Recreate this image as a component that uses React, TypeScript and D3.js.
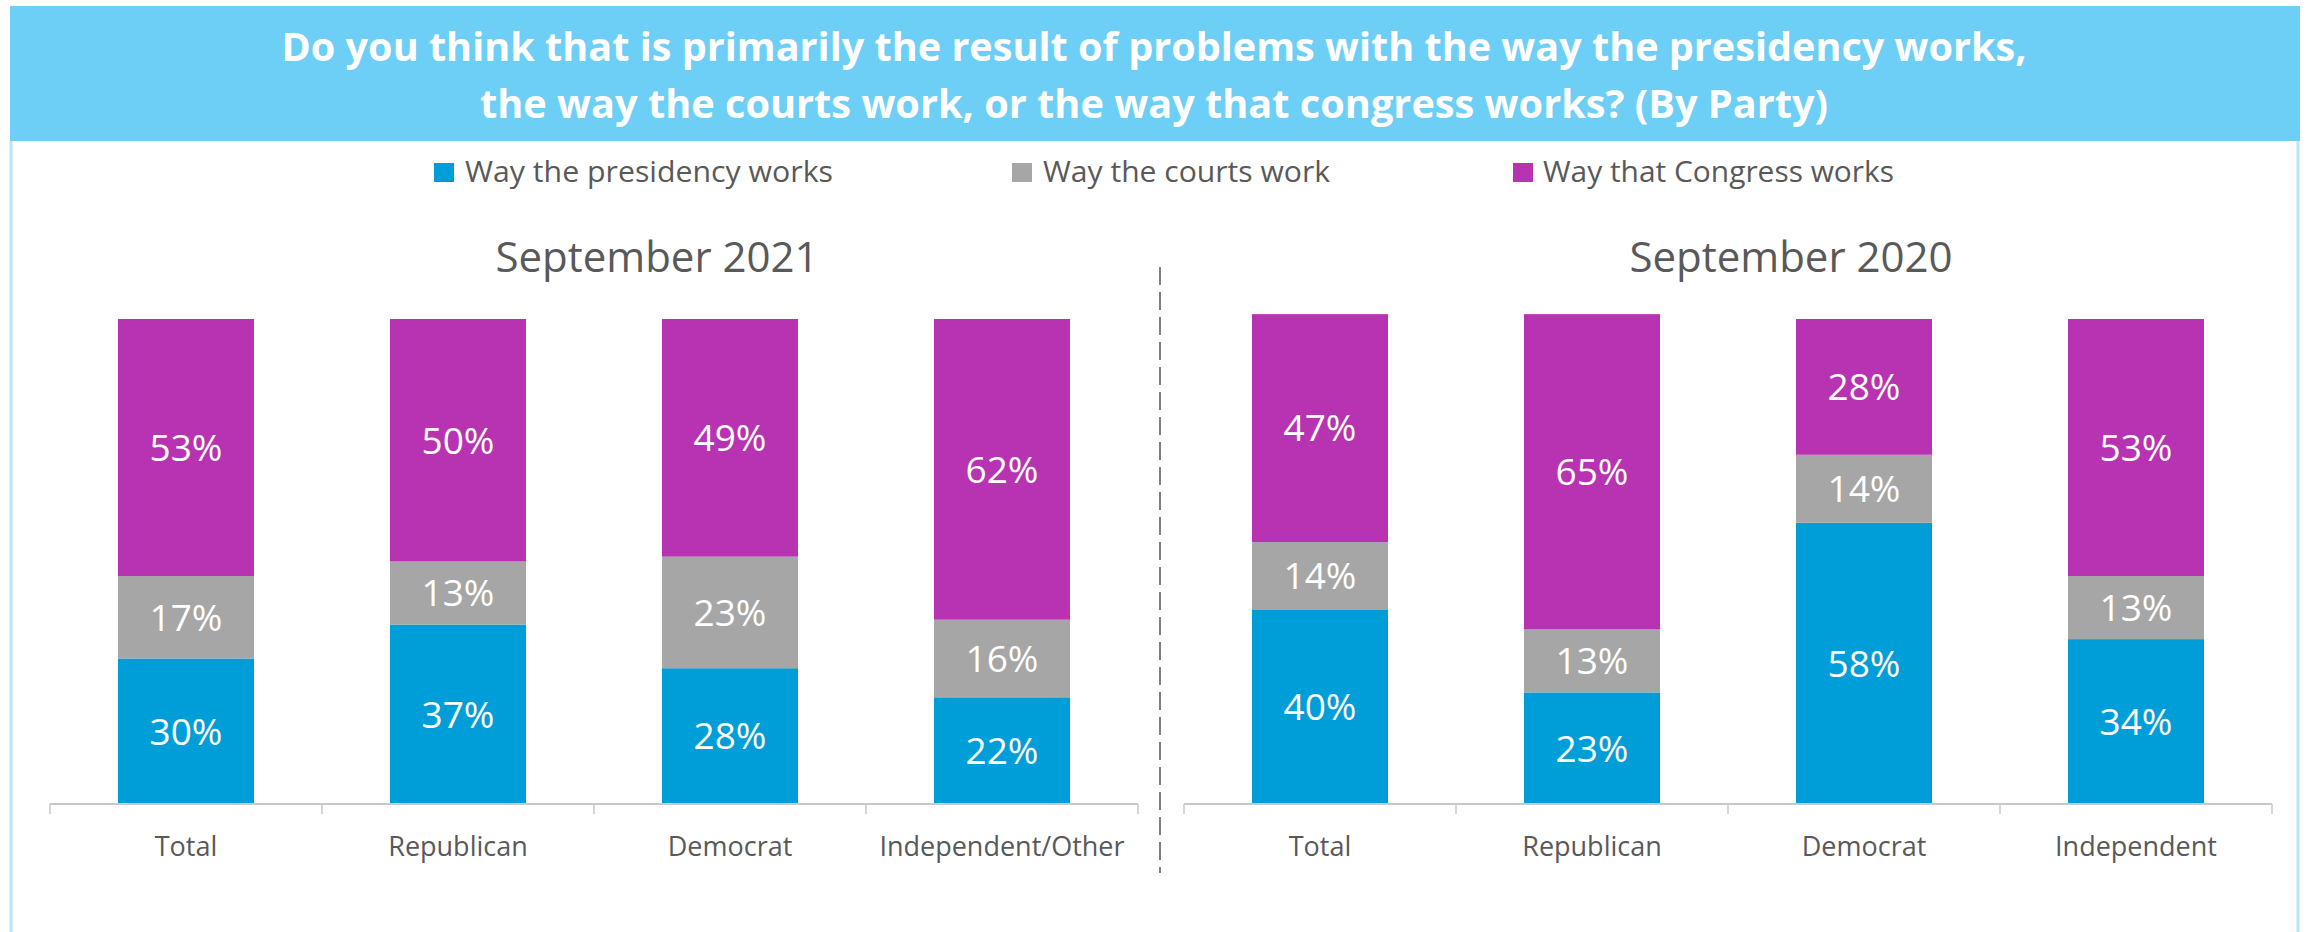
import React from "react";
import * as d3 from "d3";

// ---- data ----
const seriesNames = ["Way the presidency works", "Way the courts work", "Way that Congress works"];
const seriesColors = ["#009ED8", "#A6A6A6", "#B733B1"];

const panelTitles = ["September 2021", "September 2020"];

const categories2021 = ["Total", "Republican", "Democrat", "Independent/Other"];
const presidency2021 = [30, 37, 28, 22];
const courts2021 = [17, 13, 23, 16];
const congress2021 = [53, 50, 49, 62];

const categories2020 = ["Total", "Republican", "Democrat", "Independent"];
const presidency2020 = [40, 23, 58, 34];
const courts2020 = [14, 13, 14, 13];
const congress2020 = [47, 65, 28, 53];

const titleLines = [
  "Do you think that is primarily the result of problems with the way the presidency works,",
  "the way the courts work, or the way that congress works? (By Party)",
];

// ---- layout ----
const W = 2306;
const H = 932;
const FONT = "'Open Sans', 'Noto Sans', sans-serif";
const TEXT_GRAY = "#595959";

const axisY = 804;
const topY = 319;
const y = d3.scaleLinear().domain([0, 100]).range([axisY, topY]);

type Panel = {
  title: string;
  titleX: number;
  cats: string[];
  series: number[][];
  range: [number, number];
};

const panels: Panel[] = [
  {
    title: panelTitles[0],
    titleX: 657,
    cats: categories2021,
    series: [presidency2021, courts2021, congress2021],
    range: [50, 1138],
  },
  {
    title: panelTitles[1],
    titleX: 1791,
    cats: categories2020,
    series: [presidency2020, courts2020, congress2020],
    range: [1184, 2272],
  },
];

const legendLayout = [
  { mx: 434, tx: 465, tl: 368 },
  { mx: 1012, tx: 1043, tl: 287 },
  { mx: 1513, tx: 1543, tl: 351 },
];

function PanelView({ p }: { p: Panel }) {
  const x = d3.scaleBand<string>().domain(p.cats).range(p.range).paddingInner(0.5).paddingOuter(0.25);
  const step = x.step();
  const stacked = d3
    .stack<number>()
    .keys(["0", "1", "2"])
    .value((i, k) => p.series[+k][i])(d3.range(p.cats.length));

  return (
    <g>
      <text x={p.titleX} y={272} textAnchor="middle" fontFamily={FONT} fontSize={42} fill={TEXT_GRAY}>
        {p.title}
      </text>
      {stacked.map((layer, si) => (
        <g key={si}>
          {layer.map((d, ci) => {
            const bx = x(p.cats[ci])!;
            const y0 = y(d[0]);
            const y1 = y(d[1]);
            return (
              <g key={ci}>
                <rect x={bx} y={y1} width={x.bandwidth()} height={y0 - y1} fill={seriesColors[si]} />
                <text
                  x={bx + x.bandwidth() / 2}
                  y={(y0 + y1) / 2}
                  dy="0.36em"
                  textAnchor="middle"
                  fontFamily={FONT}
                  fontSize={37}
                  fill="#ffffff"
                >
                  {p.series[si][ci]}%
                </text>
              </g>
            );
          })}
        </g>
      ))}
      <line x1={p.range[0]} x2={p.range[1]} y1={axisY} y2={axisY} stroke="#C8C8C8" strokeWidth={2} />
      {d3.range(p.cats.length + 1).map((i) => (
        <line
          key={i}
          x1={p.range[0] + i * step}
          x2={p.range[0] + i * step}
          y1={axisY}
          y2={axisY + 10}
          stroke="#C8C8C8"
          strokeWidth={1.5}
        />
      ))}
      {p.cats.map((c) => (
        <text
          key={c}
          x={x(c)! + x.bandwidth() / 2}
          y={856}
          textAnchor="middle"
          fontFamily={FONT}
          fontSize={27}
          fill={TEXT_GRAY}
        >
          {c}
        </text>
      ))}
    </g>
  );
}

export default function App() {
  return (
    <svg
      width={W}
      height={H}
      viewBox={`0 0 ${W} ${H}`}
      style={{ position: "absolute", left: 0, top: 0, display: "block", background: "#ffffff" }}
    >
      <rect x={0} y={0} width={W} height={H} fill="#ffffff" />
      {/* outer border */}
      <line x1={11} x2={11} y1={141} y2={H} stroke="#B5E5F9" strokeWidth={3} />
      <line x1={2298} x2={2298} y1={141} y2={H} stroke="#B5E5F9" strokeWidth={3} />
      {/* title banner */}
      <rect x={10} y={6} width={2290} height={135} fill="#6DCFF6" />
      <text
        x={1154}
        y={61}
        textAnchor="middle"
        fontFamily={FONT}
        fontWeight={700}
        fontSize={40}
        fill="#ffffff"
        textLength={1745}
        lengthAdjust="spacingAndGlyphs"
      >
        {titleLines[0]}
      </text>
      <text
        x={1154}
        y={118}
        textAnchor="middle"
        fontFamily={FONT}
        fontWeight={700}
        fontSize={40}
        fill="#ffffff"
        textLength={1348}
        lengthAdjust="spacingAndGlyphs"
      >
        {titleLines[1]}
      </text>
      {/* legend */}
      {seriesNames.map((s, i) => (
        <g key={s}>
          <rect x={legendLayout[i].mx} y={163} width={20} height={19} fill={seriesColors[i]} />
          <text
            x={legendLayout[i].tx}
            y={182}
            fontFamily={FONT}
            fontSize={29}
            fill={TEXT_GRAY}
            textLength={legendLayout[i].tl}
            lengthAdjust="spacingAndGlyphs"
          >
            {s}
          </text>
        </g>
      ))}
      {/* divider */}
      <line x1={1160} x2={1160} y1={267} y2={873} stroke="#7F7F7F" strokeWidth={2} strokeDasharray="18 7" />
      {panels.map((p) => (
        <PanelView key={p.title} p={p} />
      ))}
    </svg>
  );
}
